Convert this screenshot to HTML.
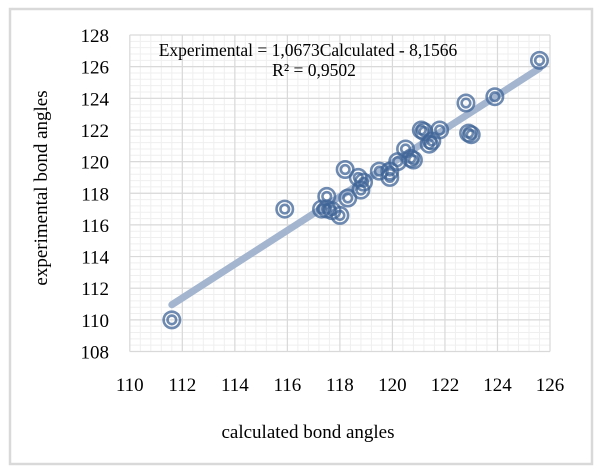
<!DOCTYPE html>
<html><head><meta charset="utf-8"><style>
body{margin:0;background:#fff;width:601px;height:474px;overflow:hidden}
svg{display:block;font-family:"Liberation Serif",serif}
</style></head><body>
<svg width="601" height="474">
<rect x="10" y="9" width="582" height="455" fill="#fff" stroke="#d9d9d9" stroke-width="2.5"/>
<g id="grid"></g>
<g id="ticks"></g>
<g id="trend"></g>
<g id="pts"></g>
<text x="308" y="56" font-size="17.5" text-anchor="middle">Experimental = 1,0673Calculated - 8,1566</text>
<text x="314" y="76" font-size="17.5" text-anchor="middle">R² = 0,9502</text>
<text x="308" y="438" font-size="19" text-anchor="middle">calculated bond angles</text>
<text transform="translate(47,188) rotate(-90)" font-size="19" text-anchor="middle">experimental bond angles</text>
</svg>
<script>
const xTicks=[110,112,114,116,118,120,122,124,126];
const yTicks=[108,110,112,114,116,118,120,122,124,126,128];
const calcX=[111.6,115.9,117.3,117.5,117.5,117.7,118,118.2,118.3,118.7,118.8,118.9,119.5,119.9,119.9,120.2,120.5,120.7,120.8,121.1,121.2,121.4,121.5,121.8,122.8,122.9,123,123.9,125.6];
const expY=[110,117,117,117.8,117,116.9,116.6,119.5,117.7,119,118.2,118.7,119.4,119.4,119,120,120.8,120.2,120.1,122,121.9,121.1,121.3,122,123.7,121.8,121.7,124.1,126.4];
const slope=1.0673, intercept=-8.1566;
const X0=129.8,X1=550,Y0=351.5,Y1=35;
const sx=v=>X0+(v-110)/16*(X1-X0);
const sy=v=>Y0-(v-108)/20*(Y0-Y1);
const NS='http://www.w3.org/2000/svg';
function mk(t,a,p){const e=document.createElementNS(NS,t);for(const k in a)e.setAttribute(k,a[k]);p.appendChild(e);return e;}
const grid=document.getElementById('grid');
for(let v=110;v<=126.001;v+=0.4){const l=mk('line',{x1:sx(v),x2:sx(v),y1:Y1,y2:Y0,stroke:'#efefef','stroke-width':1},grid);}
for(let v=108;v<=128.001;v+=0.4){const l=mk('line',{x1:X0,x2:X1,y1:sy(v),y2:sy(v),stroke:'#efefef','stroke-width':1},grid);}
xTicks.forEach(v=>{const l=mk('line',{x1:sx(v),x2:sx(v),y1:Y1,y2:Y0,stroke:'#d9d9d9','stroke-width':1.2},grid);});
yTicks.forEach(v=>{const l=mk('line',{x1:X0,x2:X1,y1:sy(v),y2:sy(v),stroke:'#d9d9d9','stroke-width':1.2},grid);});
const tk=document.getElementById('ticks');
xTicks.forEach(v=>{const t=mk('text',{x:sx(v),y:391,'font-size':19,'text-anchor':'middle'},tk);t.textContent=v;});
yTicks.forEach(v=>{const t=mk('text',{x:109,y:sy(v)+7,'font-size':19,'text-anchor':'end'},tk);t.textContent=v;});
const xmin=Math.min(...calcX),xmax=Math.max(...calcX);
const tl=mk('line',{x1:sx(xmin),y1:sy(slope*xmin+intercept),x2:sx(xmax),y2:sy(slope*xmax+intercept),stroke:'#a3b5cf','stroke-width':7,'stroke-linecap':'round'},document.getElementById('trend'));


const pts=document.getElementById('pts');
calcX.forEach((v,i)=>{const g=mk('g',{},pts);
mk('circle',{cx:sx(v),cy:sy(expY[i]),r:8.2,fill:'none',stroke:'#3f6497','stroke-width':2.6,'stroke-opacity':0.75},g);
mk('circle',{cx:sx(v),cy:sy(expY[i]),r:4.3,fill:'none',stroke:'#3f6497','stroke-width':2.6,'stroke-opacity':0.75},g);});
</script>
</body></html>
